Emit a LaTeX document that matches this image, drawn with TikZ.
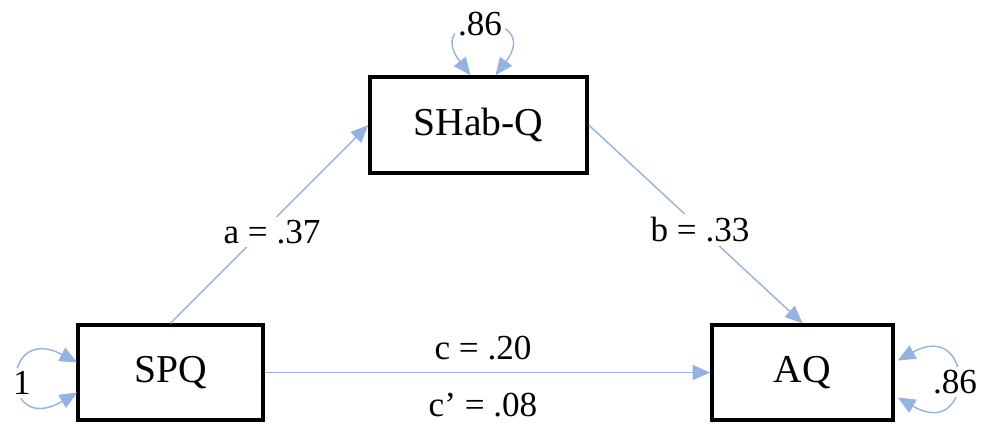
\documentclass[tikz,border=0pt]{standalone}
\usepackage{fontspec}
\setmainfont{Liberation Serif}
\usetikzlibrary{arrows.meta,calc}
\definecolor{arrowc}{RGB}{150,178,224}
\tikzset{
  varbox/.style={draw=black,line width=2pt,fill=white,rectangle,inner sep=0pt,
    font=\fontsize{22.5}{27}\selectfont},
  tip/.style={},
  path/.style={draw=arrowc,line width=0.8pt,-{Triangle[length=10pt,width=8.5pt]}},
  loop/.style={draw=arrowc,line width=0.8pt,{Triangle[length=10pt,width=8.5pt]}-{Triangle[length=10pt,width=8.5pt]}},
  lab/.style={font=\fontsize{20}{24}\selectfont,inner sep=2pt},
  flab/.style={lab,fill=white}
}
\begin{document}
\begin{tikzpicture}[x=0.02cm,y=-0.02cm]
\useasboundingbox[fill=white] (0,0) rectangle (994,423);
\node[varbox,minimum width=3.7cm,minimum height=1.9cm] (spq) at (170.5,372.5) {SPQ};
\node[varbox,minimum width=4.34cm,minimum height=1.92cm] (shab) at (478.5,125) {SHab-Q};
\node[varbox,minimum width=3.62cm,minimum height=1.9cm] (aq) at (802.5,372.5) {AQ};
% paths
\draw[path] (spq.north) -- (shab.west);
\node[flab] (la) at (272,232) {a = .37};
\draw[path] (shab.east) -- (aq.north);
\node[flab] (lb) at (700,230) {b = .33};
\draw[path] (spq.east) -- (aq.west);
\node[lab] (lc) at (483,348) {c = .20};
\node[lab] (lcp) at (483,405) {c’ = .08};
% loops
\coordinate (s1) at ($(spq.west)+(1,-10)$);
\coordinate (s2) at ($(spq.west)+(1,20)$);
\draw[loop] (s1) .. controls (0,322) and (0,438) .. (s2);
\node[flab] (l1) at (22,383) {1};
\coordinate (q1) at ($(aq.east)+(3,-12)$);
\coordinate (q2) at ($(aq.east)+(3,25)$);
\draw[loop] (q1) .. controls (975,318) and (975,442) .. (q2);
\node[flab] (l2) at (955,382) {.86};
\coordinate (h1) at ($(shab.north)+(-8,0)$);
\coordinate (h2) at ($(shab.north)+(17,0)$);
\draw[loop] (h1) .. controls (420,10) and (545,10) .. (h2);
\node[flab] (l3) at (480,24) {.86};
\end{tikzpicture}
\end{document}
